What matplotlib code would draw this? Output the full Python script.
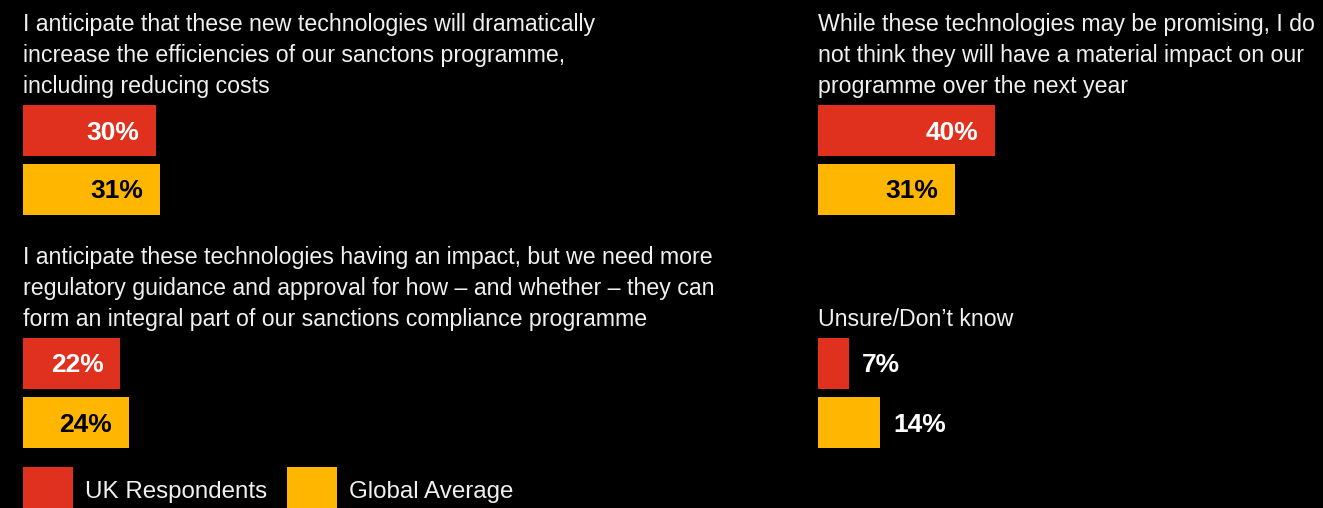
import matplotlib
matplotlib.use('Agg')
import matplotlib.pyplot as plt
from matplotlib.patches import Patch

# Dati
titles = [
    "I anticipate that these new technologies will dramatically\nincrease the efficiencies of our sanctons programme,\nincluding reducing costs",
    "While these technologies may be promising, I do\nnot think they will have a material impact on our\nprogramme over the next year",
    "I anticipate these technologies having an impact, but we need more\nregulatory guidance and approval for how \u2013 and whether \u2013 they can\nform an integral part of our sanctions compliance programme",
    "Unsure/Don\u2019t know",
]
uk_values = [30, 40, 22, 7]
global_values = [31, 31, 24, 14]
series_names = ['UK Respondents', 'Global Average']

RED = '#E0301E'
AMBER = '#FFB600'
W, H = 1323, 508
PX_PER_PCT = 4.43

plt.rcParams['font.family'] = ['Liberation Sans', 'DejaVu Sans']

fig = plt.figure(figsize=(W / 100, H / 100), dpi=100, facecolor='black')

# posizione dei pannelli (pixel: sinistra, alto delle barre)
panel_pos = [(23, 101), (818, 101), (23, 334), (818, 334)]

for i, (left, top) in enumerate(panel_pos):
    ax_w, ax_h = 450, 118
    ax = fig.add_axes([left / W, (H - top - ax_h) / H, ax_w / W, ax_h / H])
    ax.set_facecolor('black')
    vals = [uk_values[i], global_values[i]]
    ax.barh([0, 1], vals, height=51 / 59, color=[RED, AMBER])
    ax.set_xlim(0, ax_w / PX_PER_PCT)
    ax.set_ylim(1.5, -0.5)
    ax.axis('off')
    for y, v, c in zip([0, 1], vals, ['white', 'black']):
        if v >= 15:
            ax.annotate(f'{v}%', (v, y), xytext=(-17, -2), textcoords='offset pixels',
                        ha='right', va='center', color=c, fontsize=19, fontweight='bold')
        else:
            ax.annotate(f'{v}%', (v, y), xytext=(13, -2), textcoords='offset pixels',
                        ha='left', va='center', color='white', fontsize=19, fontweight='bold')
    fig.text(left / W, (H - top + 8) / H, titles[i], color='#f0f0f0',
             fontsize=16.7, ha='left', va='baseline', linespacing=1.44)

handles = [Patch(facecolor=RED), Patch(facecolor=AMBER)]
fig.legend(handles, series_names, loc='upper left', bbox_to_anchor=(23 / W, (H - 467) / H),
           ncol=2, frameon=False, fontsize=17.4, labelcolor='#f0f0f0',
           handlelength=2.07, handleheight=2.6, handletextpad=0.5, columnspacing=0.8,
           borderpad=0, borderaxespad=0)

fig.savefig('out.png', dpi=100, facecolor='black')
